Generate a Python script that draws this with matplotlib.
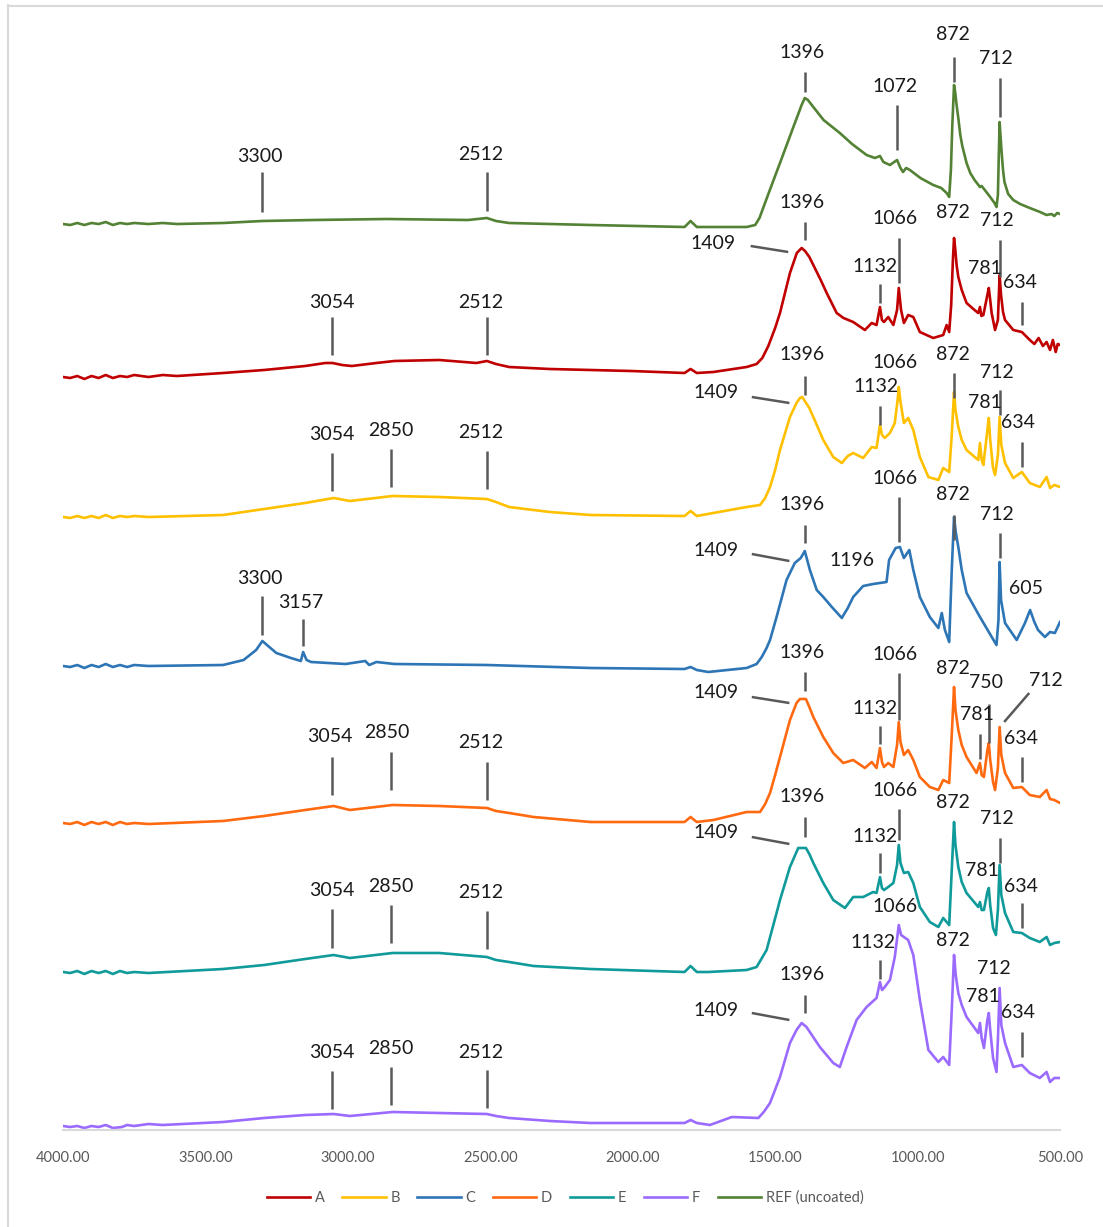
import matplotlib
matplotlib.use("Agg")
import matplotlib.pyplot as plt
from matplotlib.lines import Line2D

plt.rcParams['font.family'] = ['Lato', 'DejaVu Sans']

# ---------------- spectra: (wavenumber cm-1, stacked absorbance) ----------------
ref_points = [
    (4000, 9.06), (3975, 9.05), (3950, 9.07), (3925, 9.05), (3900, 9.07), (3875, 9.06),
    (3850, 9.08), (3825, 9.05), (3800, 9.07), (3775, 9.06), (3750, 9.07), (3700, 9.06),
    (3650, 9.07), (3600, 9.06), (3438, 9.07), (3300, 9.09), (3122, 9.10), (2864, 9.11),
    (2578, 9.10), (2512, 9.12), (2480, 9.09), (2434, 9.07), (2148, 9.05), (1818, 9.03),
    (1797, 9.09), (1775, 9.03), (1600, 9.03), (1570, 9.05), (1555, 9.12), (1520, 9.39),
    (1483, 9.67), (1436, 10.03), (1407, 10.25), (1396, 10.32), (1385, 10.30), (1366, 10.23),
    (1330, 10.10), (1273, 9.97), (1230, 9.86), (1179, 9.75), (1150, 9.72), (1132, 9.74),
    (1120, 9.68), (1097, 9.65), (1072, 9.70), (1060, 9.62), (1051, 9.58), (1040, 9.62),
    (1027, 9.60), (990, 9.52), (945, 9.45), (917, 9.42), (898, 9.37), (889, 9.33), (883, 9.60),
    (878, 10.05), (872, 10.45), (868, 10.38), (863, 10.25), (857, 10.12), (850, 9.95),
    (843, 9.84), (835, 9.75), (828, 9.67), (815, 9.57), (800, 9.50), (781, 9.43), (775, 9.44),
    (764, 9.40), (745, 9.33), (730, 9.27), (723, 9.23), (718, 9.35), (714, 9.85), (712, 10.08),
    (709, 9.95), (705, 9.78), (700, 9.60), (695, 9.48), (682, 9.36), (664, 9.30), (640, 9.26),
    (606, 9.22), (570, 9.18), (547, 9.15), (530, 9.16), (520, 9.14), (510, 9.17), (500, 9.16),
]

a_points = [
    (4000, 7.53), (3975, 7.52), (3950, 7.54), (3925, 7.51), (3900, 7.54), (3875, 7.52),
    (3850, 7.55), (3825, 7.52), (3800, 7.54), (3775, 7.53), (3750, 7.55), (3700, 7.53),
    (3650, 7.55), (3600, 7.54), (3438, 7.57), (3294, 7.60), (3150, 7.64), (3079, 7.67),
    (3054, 7.67), (3020, 7.65), (2986, 7.64), (2900, 7.67), (2836, 7.69), (2679, 7.70),
    (2549, 7.67), (2512, 7.69), (2480, 7.66), (2434, 7.63), (2291, 7.61), (2005, 7.59),
    (1818, 7.57), (1797, 7.61), (1775, 7.57), (1717, 7.58), (1600, 7.63), (1565, 7.66),
    (1545, 7.72), (1524, 7.84), (1500, 8.02), (1483, 8.17), (1448, 8.57), (1424, 8.77),
    (1407, 8.82), (1395, 8.79), (1380, 8.73), (1366, 8.65), (1340, 8.50), (1319, 8.37),
    (1284, 8.17), (1260, 8.12), (1226, 8.08), (1185, 8.00), (1161, 8.07), (1144, 8.05),
    (1132, 8.23), (1125, 8.10), (1118, 8.08), (1103, 8.13), (1085, 8.05), (1072, 8.20),
    (1066, 8.42), (1058, 8.20), (1048, 8.07), (1033, 8.15), (1015, 8.13), (992, 7.98),
    (945, 7.92), (910, 7.95), (898, 8.05), (889, 7.98), (882, 8.25), (876, 8.70), (872, 8.92),
    (868, 8.82), (863, 8.65), (857, 8.53), (845, 8.40), (828, 8.27), (800, 8.20), (787, 8.17),
    (781, 8.23), (776, 8.14), (769, 8.15), (755, 8.35), (750, 8.42), (745, 8.30), (740, 8.17),
    (728, 8.00), (718, 8.10), (712, 8.55), (707, 8.35), (700, 8.18), (693, 8.10), (664, 8.00),
    (634, 7.98), (620, 7.94), (606, 7.90), (590, 7.86), (575, 7.92), (560, 7.84), (547, 7.88),
    (535, 7.80), (525, 7.90), (515, 7.78), (508, 7.86), (500, 7.85),
]

b_points = [
    (4000, 6.13), (3975, 6.12), (3950, 6.14), (3925, 6.12), (3900, 6.14), (3875, 6.12),
    (3850, 6.15), (3825, 6.12), (3800, 6.14), (3775, 6.13), (3750, 6.14), (3700, 6.13),
    (3438, 6.15), (3294, 6.21), (3150, 6.27), (3050, 6.32), (2993, 6.29), (2843, 6.34),
    (2679, 6.33), (2512, 6.31), (2480, 6.28), (2434, 6.23), (2291, 6.18), (2148, 6.15),
    (1818, 6.14), (1797, 6.19), (1775, 6.14), (1717, 6.17), (1600, 6.23), (1553, 6.25),
    (1535, 6.32), (1518, 6.43), (1500, 6.60), (1483, 6.80), (1448, 7.13), (1425, 7.27),
    (1413, 7.32), (1405, 7.33), (1396, 7.29), (1380, 7.22), (1366, 7.13), (1331, 6.90),
    (1296, 6.73), (1266, 6.67), (1245, 6.74), (1226, 6.77), (1191, 6.72), (1161, 6.83),
    (1144, 6.82), (1132, 7.05), (1125, 6.95), (1115, 6.92), (1097, 6.97), (1080, 7.07),
    (1070, 7.30), (1066, 7.43), (1060, 7.28), (1048, 7.07), (1033, 7.12), (1015, 7.00),
    (992, 6.73), (962, 6.53), (927, 6.50), (910, 6.62), (889, 6.58), (880, 6.95), (872, 7.38),
    (867, 7.20), (857, 7.03), (845, 6.90), (828, 6.80), (787, 6.70), (781, 6.87), (775, 6.70),
    (769, 6.65), (755, 7.00), (750, 7.12), (745, 6.90), (735, 6.62), (728, 6.55), (718, 6.75),
    (712, 7.13), (706, 6.85), (693, 6.67), (664, 6.52), (634, 6.58), (606, 6.47), (571, 6.43),
    (547, 6.53), (535, 6.42), (520, 6.45), (500, 6.43),
]

c_points = [
    (4000, 4.64), (3975, 4.63), (3950, 4.65), (3925, 4.62), (3900, 4.65), (3875, 4.63),
    (3850, 4.66), (3825, 4.63), (3800, 4.65), (3775, 4.63), (3750, 4.65), (3700, 4.64),
    (3438, 4.65), (3366, 4.70), (3322, 4.80), (3300, 4.89), (3280, 4.84), (3251, 4.77),
    (3200, 4.72), (3165, 4.69), (3157, 4.78), (3145, 4.70), (3129, 4.68), (3008, 4.66),
    (2939, 4.69), (2925, 4.65), (2900, 4.68), (2836, 4.66), (2512, 4.65), (2148, 4.62),
    (1818, 4.61), (1797, 4.63), (1775, 4.60), (1735, 4.58), (1600, 4.62), (1565, 4.66),
    (1547, 4.73), (1530, 4.82), (1518, 4.90), (1495, 5.13), (1460, 5.50), (1431, 5.67),
    (1410, 5.72), (1396, 5.79), (1378, 5.60), (1354, 5.40), (1331, 5.33), (1301, 5.23),
    (1266, 5.12), (1245, 5.22), (1226, 5.33), (1191, 5.44), (1156, 5.46), (1109, 5.48),
    (1100, 5.70), (1077, 5.82), (1062, 5.83), (1048, 5.72), (1029, 5.80), (1015, 5.60),
    (992, 5.33), (957, 5.13), (927, 5.02), (915, 5.17), (904, 5.00), (889, 4.88), (880, 5.60),
    (872, 6.13), (866, 5.98), (857, 5.83), (845, 5.60), (828, 5.37), (781, 5.13), (723, 4.85),
    (716, 5.10), (712, 5.68), (707, 5.30), (693, 5.07), (652, 4.90), (623, 5.07), (605, 5.20),
    (590, 5.08), (577, 5.00), (553, 4.93), (535, 4.98), (518, 4.97), (500, 5.08),
]

d_points = [
    (4000, 3.07), (3975, 3.06), (3950, 3.08), (3925, 3.05), (3900, 3.08), (3875, 3.06),
    (3850, 3.08), (3825, 3.05), (3800, 3.08), (3775, 3.06), (3750, 3.07), (3700, 3.06),
    (3438, 3.09), (3294, 3.14), (3150, 3.20), (3050, 3.24), (2993, 3.20), (2843, 3.25),
    (2679, 3.24), (2512, 3.22), (2480, 3.19), (2434, 3.17), (2348, 3.13), (2148, 3.08),
    (1818, 3.08), (1797, 3.13), (1775, 3.08), (1717, 3.10), (1600, 3.18), (1553, 3.18),
    (1535, 3.26), (1518, 3.37), (1500, 3.55), (1483, 3.73), (1448, 4.10), (1425, 4.27),
    (1413, 4.31), (1392, 4.31), (1380, 4.23), (1366, 4.13), (1331, 3.93), (1296, 3.77),
    (1261, 3.67), (1226, 3.70), (1185, 3.62), (1161, 3.68), (1144, 3.62), (1132, 3.82),
    (1125, 3.68), (1118, 3.63), (1103, 3.67), (1085, 3.63), (1072, 3.85), (1066, 4.08),
    (1060, 3.88), (1048, 3.75), (1033, 3.80), (1015, 3.70), (992, 3.53), (957, 3.43),
    (927, 3.40), (910, 3.50), (889, 3.47), (880, 3.95), (872, 4.43), (867, 4.20), (857, 4.00),
    (845, 3.85), (828, 3.73), (793, 3.57), (781, 3.67), (775, 3.55), (767, 3.53), (755, 3.80),
    (750, 3.87), (745, 3.70), (735, 3.48), (728, 3.40), (718, 3.62), (712, 4.03), (706, 3.75),
    (693, 3.57), (664, 3.42), (634, 3.43), (606, 3.35), (571, 3.33), (547, 3.40), (535, 3.31),
    (520, 3.30), (500, 3.27),
]

e_points = [
    (4000, 1.58), (3975, 1.57), (3950, 1.59), (3925, 1.56), (3900, 1.59), (3875, 1.57),
    (3850, 1.59), (3825, 1.56), (3800, 1.59), (3775, 1.57), (3750, 1.58), (3700, 1.57),
    (3438, 1.61), (3294, 1.65), (3150, 1.71), (3050, 1.75), (2993, 1.72), (2843, 1.77),
    (2679, 1.77), (2512, 1.73), (2480, 1.70), (2434, 1.68), (2348, 1.64), (2148, 1.61),
    (1818, 1.58), (1797, 1.64), (1775, 1.58), (1735, 1.58), (1600, 1.60), (1565, 1.63),
    (1530, 1.80), (1495, 2.17), (1483, 2.30), (1448, 2.63), (1419, 2.82), (1392, 2.82),
    (1380, 2.76), (1366, 2.67), (1331, 2.47), (1296, 2.30), (1255, 2.22), (1226, 2.33),
    (1191, 2.33), (1156, 2.38), (1144, 2.37), (1132, 2.53), (1125, 2.42), (1118, 2.40),
    (1103, 2.43), (1085, 2.47), (1072, 2.65), (1066, 2.85), (1060, 2.67), (1048, 2.57),
    (1033, 2.58), (1015, 2.47), (992, 2.23), (957, 2.08), (927, 2.03), (910, 2.12), (889, 2.05),
    (880, 2.60), (872, 3.08), (867, 2.85), (857, 2.63), (845, 2.48), (828, 2.37), (787, 2.23),
    (781, 2.28), (775, 2.20), (767, 2.20), (755, 2.38), (750, 2.42), (745, 2.25), (735, 2.02),
    (725, 1.95), (718, 2.20), (712, 2.65), (706, 2.35), (693, 2.17), (664, 1.98), (634, 1.97),
    (606, 1.92), (571, 1.88), (547, 1.93), (535, 1.85), (520, 1.87), (500, 1.88),
]

f_points = [
    (4000, 0.04), (3975, 0.03), (3950, 0.04), (3925, 0.02), (3900, 0.04), (3875, 0.03),
    (3850, 0.05), (3825, 0.02), (3793, 0.03), (3775, 0.05), (3750, 0.04), (3700, 0.06),
    (3651, 0.05), (3438, 0.08), (3294, 0.12), (3150, 0.15), (3050, 0.16), (2993, 0.14),
    (2843, 0.18), (2679, 0.17), (2512, 0.16), (2480, 0.14), (2434, 0.12), (2291, 0.09),
    (2148, 0.07), (1818, 0.07), (1797, 0.10), (1775, 0.07), (1729, 0.05), (1652, 0.13),
    (1559, 0.12), (1540, 0.18), (1518, 0.27), (1483, 0.53), (1448, 0.87), (1425, 1.00),
    (1407, 1.07), (1390, 1.03), (1343, 0.83), (1296, 0.67), (1273, 0.63), (1249, 0.83),
    (1214, 1.10), (1179, 1.23), (1144, 1.32), (1132, 1.48), (1125, 1.40), (1118, 1.42),
    (1097, 1.50), (1080, 1.73), (1066, 2.05), (1058, 1.95), (1048, 1.93), (1033, 1.90),
    (1015, 1.75), (992, 1.30), (962, 0.80), (927, 0.68), (910, 0.73), (889, 0.65), (880, 1.20),
    (872, 1.75), (866, 1.55), (857, 1.37), (845, 1.25), (828, 1.13), (787, 0.97), (781, 1.07),
    (775, 0.92), (767, 0.82), (755, 1.10), (750, 1.17), (745, 1.00), (735, 0.72), (723, 0.58),
    (718, 0.90), (712, 1.42), (706, 1.05), (693, 0.87), (664, 0.63), (634, 0.65), (606, 0.57),
    (571, 0.52), (547, 0.58), (535, 0.48), (520, 0.52), (500, 0.52),
]

series_names = ['A', 'B', 'C', 'D', 'E', 'F', 'REF (uncoated)']
x_ticks = [4000, 3500, 3000, 2500, 2000, 1500, 1000, 500]

# ---------------- peak labels: (text, text x, text y, leader) ----------------
# leader: (y_top, y_bottom) -> vertical line at the labelled wavenumber,
#         ((x0, y0), (x1, y1)) -> slanted line, None -> no line
peak_labels = {
    'REF (uncoated)': [
        ('3300', 3308, 9.73, (9.58, 9.18)), ('2512', 2535, 9.75, (9.58, 9.19)),
        ('1396', 1405, 10.78, (10.58, 10.38)), ('1072', 1079, 10.43, (10.25, 9.80)),
        ('872', 876, 10.95, (10.73, 10.48)), ('712', 726, 10.71, (10.52, 10.13))],
    'A': [
        ('3054', 3058, 8.28, (8.13, 7.75)), ('2512', 2535, 8.28, (8.13, 7.75)),
        ('1396', 1405, 9.28, (9.08, 8.90)), ('1409', 1717, 8.87, ((1586, 8.84), (1454, 8.78))),
        ('1066', 1079, 9.11, (8.92, 8.47)), ('1132', 1149, 8.64, (8.46, 8.27)),
        ('872', 875, 9.17, None), ('712', 722, 9.09, (8.90, 8.53)),
        ('781', 763, 8.62, None), ('634', 640, 8.47, (8.28, 8.05))],
    'B': [
        ('3054', 3058, 6.95, (6.77, 6.39)), ('2850', 2850, 6.99, (6.81, 6.43)),
        ('2512', 2535, 6.97, (6.79, 6.41)),
        ('1396', 1405, 7.75, (7.54, 7.35)), ('1409', 1708, 7.37, ((1582, 7.33), (1450, 7.27))),
        ('1066', 1079, 7.68, None), ('1132', 1147, 7.43, (7.24, 7.05)),
        ('872', 875, 7.75, (7.57, 7.32)), ('712', 722, 7.58, (7.40, 7.15)),
        ('781', 763, 7.27, None), ('634', 646, 7.07, (6.88, 6.63))],
    'C': [
        ('3300', 3308, 5.52, (5.34, 4.95)), ('3157', 3165, 5.28, (5.11, 4.84)),
        ('1396', 1405, 6.26, (6.05, 5.87)), ('1409', 1708, 5.79, ((1582, 5.76), (1450, 5.69))),
        ('1196', 1229, 5.69, None), ('1066', 1079, 6.52, (6.33, 5.88)),
        ('872', 875, 6.36, (6.15, 5.90)), ('712', 722, 6.15, (5.97, 5.72)),
        ('605', 619, 5.41, None)],
    'D': [
        ('3054', 3065, 3.93, (3.73, 3.35)), ('2850', 2864, 3.97, (3.78, 3.40)),
        ('2512', 2535, 3.87, (3.68, 3.30)),
        ('1396', 1405, 4.78, (4.58, 4.39)), ('1409', 1708, 4.37, ((1582, 4.33), (1450, 4.27))),
        ('1066', 1079, 4.75, (4.57, 4.10)), ('1132', 1149, 4.22, (4.04, 3.86)),
        ('872', 877, 4.62, None), ('750', 760, 4.47, (4.26, 3.87)),
        ('781', 792, 4.15, (3.96, 3.71)), ('712', 550, 4.50, ((608, 4.37), (696, 4.08))),
        ('634', 638, 3.91, (3.73, 3.48))],
    'E': [
        ('3054', 3058, 2.39, (2.21, 1.82)), ('2850', 2850, 2.44, (2.25, 1.87)),
        ('2512', 2535, 2.37, (2.19, 1.81)),
        ('1396', 1405, 3.33, (3.13, 2.93)), ('1409', 1708, 2.97, ((1582, 2.93), (1450, 2.86))),
        ('1066', 1079, 3.40, (3.21, 2.90)), ('1132', 1149, 2.94, (2.77, 2.57)),
        ('872', 877, 3.27, None), ('712', 722, 3.11, (2.92, 2.67)),
        ('781', 775, 2.60, None), ('634', 638, 2.44, (2.27, 2.02))],
    'F': [
        ('3054', 3058, 0.77, (0.59, 0.21)), ('2850', 2850, 0.82, (0.63, 0.25)),
        ('2512', 2535, 0.77, (0.60, 0.22)),
        ('1396', 1405, 1.56, (1.35, 1.17)), ('1409', 1708, 1.20, ((1582, 1.17), (1450, 1.10))),
        ('1066', 1079, 2.23, None), ('1132', 1155, 1.88, (1.70, 1.51)),
        ('872', 875, 1.89, None), ('712', 731, 1.62, None),
        ('781', 769, 1.33, None), ('634', 646, 1.17, (0.98, 0.73))],
}

colors = {
    'A': '#C00000', 'B': '#FFC000', 'C': '#2E75B6', 'D': '#FF6A10',
    'E': '#109A9A', 'F': '#9B6BFF', 'REF (uncoated)': '#548235',
}
spectra = {
    'A': a_points, 'B': b_points, 'C': c_points, 'D': d_points,
    'E': e_points, 'F': f_points, 'REF (uncoated)': ref_points,
}

W, H = 1103, 1227
fig = plt.figure(figsize=(W / 100, H / 100), dpi=100)
fig.patch.set_facecolor('white')

# chart-area border (left and top edges)
fig.add_artist(Line2D([7.5 / W, 7.5 / W], [0, 1 - 5 / H], color='#D9D9D9', lw=1.5,
                      transform=fig.transFigure))
fig.add_artist(Line2D([7.5 / W, 1], [1 - 5.5 / H, 1 - 5.5 / H], color='#D9D9D9', lw=1.5,
                      transform=fig.transFigure))

ax = fig.add_axes([63 / W, (H - 1130) / H, 997 / W, 1115 / H])
ax.set_xlim(4000, 500)
ax.set_ylim(0, 11.15)

handles = []
for name in series_names:
    wn = [p[0] for p in spectra[name]]
    ab = [p[1] for p in spectra[name]]
    h, = ax.plot(wn, ab, color=colors[name], lw=1.9, solid_joinstyle='round', label=name)
    handles.append(h)

leader_color = '#595959'
for name in series_names:
    for text, tx, ty, leader in peak_labels[name]:
        ax.text(tx, ty, text, ha='center', va='center', fontsize=14, color='#1A1A1A',
                clip_on=False, zorder=5)
        if leader is None:
            continue
        if isinstance(leader[0], tuple):
            (x0, y0), (x1, y1) = leader
            ax.plot([x0, x1], [y0, y1], color=leader_color, lw=1.8,
                    solid_capstyle='butt', zorder=4)
        else:
            wn_peak = int(text)
            ax.plot([wn_peak, wn_peak], [leader[0], leader[1]], color=leader_color, lw=1.8,
                    solid_capstyle='butt', zorder=4)

for side in ('left', 'right', 'top'):
    ax.spines[side].set_visible(False)
ax.spines['bottom'].set_color('#D9D9D9')
ax.spines['bottom'].set_linewidth(1.5)
ax.set_yticks([])
ax.set_xticks(x_ticks)
ax.set_xticklabels([f'{t:.2f}' for t in x_ticks])
ax.tick_params(axis='x', length=0, pad=15, labelsize=10.5, labelcolor='#595959')

fig.legend(handles=handles, labels=series_names, loc='center', ncol=7,
           bbox_to_anchor=(565 / W, 1 - 1198 / H), frameon=False, fontsize=10.5,
           labelcolor='#595959', handlelength=3.0, handletextpad=0.3, columnspacing=1.2)

fig.savefig('out.png', dpi=100, facecolor='white')
